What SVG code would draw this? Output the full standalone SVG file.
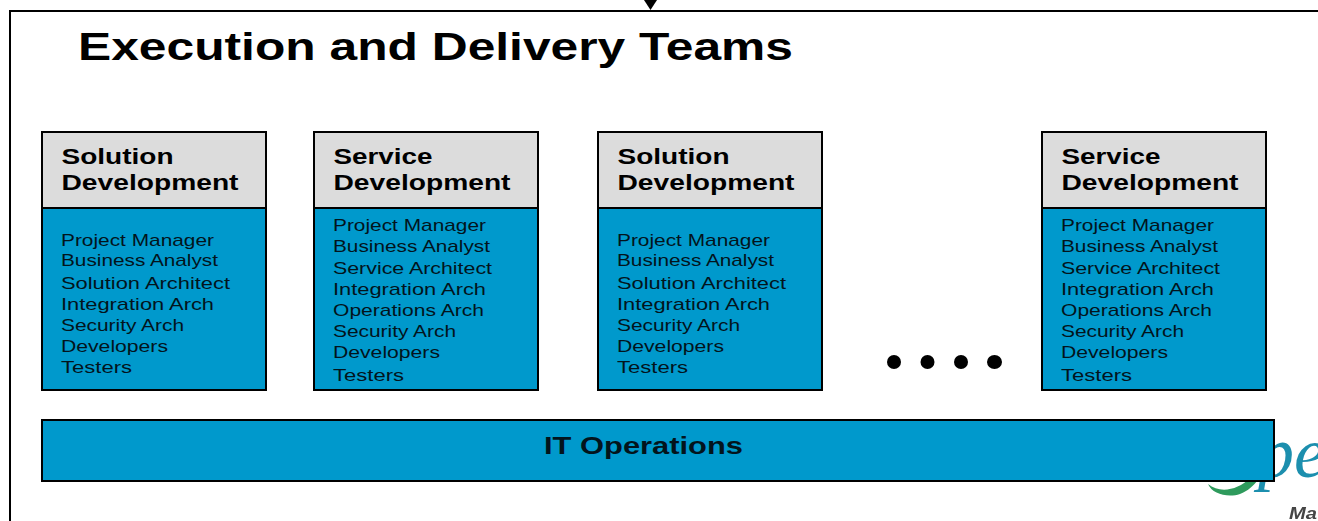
<svg xmlns="http://www.w3.org/2000/svg" width="1318" height="521" viewBox="0 0 1318 521">
<style>
text{font-family:"Liberation Sans",Arial,sans-serif;fill:#000}
.box{stroke:#000;stroke-width:2}
.head{fill:#dcdcdc}
.body{fill:#0099cc}
.h{font-size:22px;font-weight:700}
.b{font-size:17px;fill:#03141c}
.dot{fill:#000}
</style>
<defs><filter id="soft" x="-10%" y="-10%" width="120%" height="120%"><feGaussianBlur stdDeviation="0.6"/></filter></defs>
<rect width="1318" height="521" fill="#fff"/>
<g id="logo" filter="url(#soft)">
<path d="M1208 484C1220 494 1238 490 1250 478C1258 470 1262 462 1266 455L1268 458C1264 472 1256 488 1240 494C1228 498 1212 494 1208 484Z" fill="#2e9a5c"/>
<text x="1258" y="477" style="font-family:'Liberation Serif',serif;font-style:italic;font-size:72px;fill:#1f8fae">pe</text>
<text x="1289" y="519" textLength="28" lengthAdjust="spacingAndGlyphs" style="font-size:17px;font-weight:700;font-style:italic;fill:#444">Ma</text>
</g>
<g id="frame">
<path d="M1318 11H10V521" fill="none" stroke="#000" stroke-width="2"/>
<polygon points="644,0 657,0 650.500,10" fill="#000"/>
</g>
<g id="title"><text x="78" y="59.500" font-size="38" font-weight="700" textLength="715" lengthAdjust="spacingAndGlyphs">Execution and Delivery Teams</text></g>

<g id="team1">
<rect class="box head" x="42" y="132" width="224" height="76"/>
<rect class="box body" x="42" y="208" width="224" height="182"/>
<text class="h" x="61.500" y="164" textLength="112" lengthAdjust="spacingAndGlyphs">Solution</text>
<text class="h" x="61.500" y="190" textLength="177" lengthAdjust="spacingAndGlyphs">Development</text>
<text class="b" x="61" y="246" textLength="153" lengthAdjust="spacingAndGlyphs">Project Manager</text>
<text class="b" x="61" y="266" textLength="157" lengthAdjust="spacingAndGlyphs">Business Analyst</text>
<text class="b" x="61" y="289" textLength="169" lengthAdjust="spacingAndGlyphs">Solution Architect</text>
<text class="b" x="61" y="310" textLength="153" lengthAdjust="spacingAndGlyphs">Integration Arch</text>
<text class="b" x="61" y="331" textLength="123" lengthAdjust="spacingAndGlyphs">Security Arch</text>
<text class="b" x="61" y="352" textLength="107" lengthAdjust="spacingAndGlyphs">Developers</text>
<text class="b" x="61" y="373" textLength="71" lengthAdjust="spacingAndGlyphs">Testers</text>
</g>
<g id="team2">
<rect class="box head" x="314" y="132" width="224" height="76"/>
<rect class="box body" x="314" y="208" width="224" height="182"/>
<text class="h" x="333.500" y="164" textLength="99" lengthAdjust="spacingAndGlyphs">Service</text>
<text class="h" x="333.500" y="190" textLength="177" lengthAdjust="spacingAndGlyphs">Development</text>
<text class="b" x="333" y="231" textLength="153" lengthAdjust="spacingAndGlyphs">Project Manager</text>
<text class="b" x="333" y="252" textLength="157" lengthAdjust="spacingAndGlyphs">Business Analyst</text>
<text class="b" x="333" y="274" textLength="159" lengthAdjust="spacingAndGlyphs">Service Architect</text>
<text class="b" x="333" y="295" textLength="153" lengthAdjust="spacingAndGlyphs">Integration Arch</text>
<text class="b" x="333" y="316" textLength="151" lengthAdjust="spacingAndGlyphs">Operations Arch</text>
<text class="b" x="333" y="337" textLength="123" lengthAdjust="spacingAndGlyphs">Security Arch</text>
<text class="b" x="333" y="358" textLength="107" lengthAdjust="spacingAndGlyphs">Developers</text>
<text class="b" x="333" y="381" textLength="71" lengthAdjust="spacingAndGlyphs">Testers</text>
</g>
<g id="team3">
<rect class="box head" x="598" y="132" width="224" height="76"/>
<rect class="box body" x="598" y="208" width="224" height="182"/>
<text class="h" x="617.500" y="164" textLength="112" lengthAdjust="spacingAndGlyphs">Solution</text>
<text class="h" x="617.500" y="190" textLength="177" lengthAdjust="spacingAndGlyphs">Development</text>
<text class="b" x="617" y="246" textLength="153" lengthAdjust="spacingAndGlyphs">Project Manager</text>
<text class="b" x="617" y="266" textLength="157" lengthAdjust="spacingAndGlyphs">Business Analyst</text>
<text class="b" x="617" y="289" textLength="169" lengthAdjust="spacingAndGlyphs">Solution Architect</text>
<text class="b" x="617" y="310" textLength="153" lengthAdjust="spacingAndGlyphs">Integration Arch</text>
<text class="b" x="617" y="331" textLength="123" lengthAdjust="spacingAndGlyphs">Security Arch</text>
<text class="b" x="617" y="352" textLength="107" lengthAdjust="spacingAndGlyphs">Developers</text>
<text class="b" x="617" y="373" textLength="71" lengthAdjust="spacingAndGlyphs">Testers</text>
</g>
<g id="team4">
<rect class="box head" x="1042" y="132" width="224" height="76"/>
<rect class="box body" x="1042" y="208" width="224" height="182"/>
<text class="h" x="1061.500" y="164" textLength="99" lengthAdjust="spacingAndGlyphs">Service</text>
<text class="h" x="1061.500" y="190" textLength="177" lengthAdjust="spacingAndGlyphs">Development</text>
<text class="b" x="1061" y="231" textLength="153" lengthAdjust="spacingAndGlyphs">Project Manager</text>
<text class="b" x="1061" y="252" textLength="157" lengthAdjust="spacingAndGlyphs">Business Analyst</text>
<text class="b" x="1061" y="274" textLength="159" lengthAdjust="spacingAndGlyphs">Service Architect</text>
<text class="b" x="1061" y="295" textLength="153" lengthAdjust="spacingAndGlyphs">Integration Arch</text>
<text class="b" x="1061" y="316" textLength="151" lengthAdjust="spacingAndGlyphs">Operations Arch</text>
<text class="b" x="1061" y="337" textLength="123" lengthAdjust="spacingAndGlyphs">Security Arch</text>
<text class="b" x="1061" y="358" textLength="107" lengthAdjust="spacingAndGlyphs">Developers</text>
<text class="b" x="1061" y="381" textLength="71" lengthAdjust="spacingAndGlyphs">Testers</text>
</g>
<g id="dots">
<circle class="dot" cx="894" cy="362" r="7"/>
<circle class="dot" cx="927.500" cy="362" r="7"/>
<circle class="dot" cx="961" cy="362" r="7"/>
<ellipse class="dot" cx="994.500" cy="362" rx="7.500" ry="7"/>
</g>
<g id="it-operations">
<rect class="box body" x="42" y="420" width="1232" height="61"/>
<text x="544" y="454" font-size="24" font-weight="700" textLength="199" lengthAdjust="spacingAndGlyphs" style="fill:#03141c">IT Operations</text>
</g>
<g id="connectors"></g>
</svg>
